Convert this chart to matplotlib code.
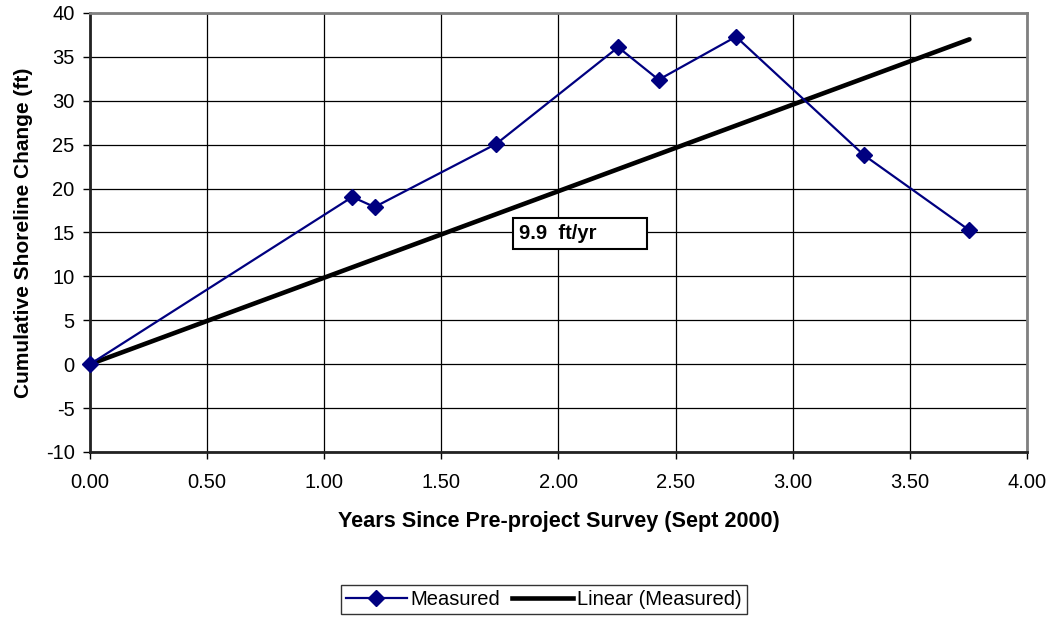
import matplotlib
matplotlib.use("Agg")
import matplotlib.pyplot as plt
from matplotlib.lines import Line2D

plt.rcParams["font.family"] = ["Liberation Sans", "DejaVu Sans"]
plt.rcParams["axes.unicode_minus"] = False

# measured cumulative shoreline change
years = [0.0, 1.12, 1.215, 1.735, 2.255, 2.428, 2.758, 3.305, 3.752]
change_ft = [0.0, 19.05, 17.9, 25.1, 36.1, 32.4, 37.3, 23.8, 15.3]

# linear trend (through origin), endpoints
trend_x = [0.0, 3.755]
trend_y = [0.0, 37.0]
trend_label = "9.9  ft/yr        "

x_ticks = [0.0, 0.5, 1.0, 1.5, 2.0, 2.5, 3.0, 3.5, 4.0]
y_ticks = [-10, -5, 0, 5, 10, 15, 20, 25, 30, 35, 40]

navy = "#000080"

fig = plt.figure(figsize=(10.55, 6.19), dpi=100)
ax = fig.add_axes([0.0853, 0.2698, 0.888, 0.7092])

ax.plot(years, change_ft, "-", color=navy, lw=1.6, marker="D",
        markersize=8.5, markeredgecolor=navy, markerfacecolor=navy,
        zorder=4, clip_on=False)
ax.plot(trend_x, trend_y, "-", color="black", lw=3.3,
        solid_capstyle="round", zorder=3)

ax.set_xlim(0, 4)
ax.set_ylim(-10, 40)
ax.set_xticks(x_ticks)
ax.set_xticklabels([f"{v:.2f}" for v in x_ticks])
ax.set_yticks(y_ticks)
ax.tick_params(axis="both", labelsize=14.5, length=5, width=1,
               color="black", direction="out")
ax.tick_params(axis="y", pad=6)
ax.tick_params(axis="x", pad=10)
ax.grid(True, color="black", lw=0.9)
ax.set_axisbelow(True)

for side in ("top", "right"):
    ax.spines[side].set_color("#808080")
    ax.spines[side].set_linewidth(2)
for side in ("left", "bottom"):
    ax.spines[side].set_color("#222222")
    ax.spines[side].set_linewidth(2)

ax.set_xlabel("Years Since Pre-project Survey (Sept 2000)",
              fontsize=15.6, fontweight="bold", labelpad=14)
ax.set_ylabel("Cumulative Shoreline Change (ft)",
              fontsize=15, fontweight="bold", labelpad=9)

ax.text(1.83, 14.9, trend_label, fontsize=14.5, fontweight="bold",
        va="center", ha="left", zorder=6,
        bbox=dict(boxstyle="square,pad=0.3", facecolor="white",
                  edgecolor="black", linewidth=1.5))

handles = [
    Line2D([], [], color=navy, lw=1.6, marker="D", markersize=8.5,
           markerfacecolor=navy, markeredgecolor=navy),
    Line2D([], [], color="black", lw=3.3),
]
leg = fig.legend(handles, ["Measured", "Linear (Measured)"],
                 loc="center", bbox_to_anchor=(0.5155, 0.032), ncol=2,
                 fontsize=14.5, frameon=True, fancybox=False,
                 handlelength=3.0, handletextpad=0.2, columnspacing=0.6,
                 borderpad=0.25)
leg.get_frame().set_edgecolor("black")
leg.get_frame().set_linewidth(1)

fig.savefig("out.png", dpi=100)
